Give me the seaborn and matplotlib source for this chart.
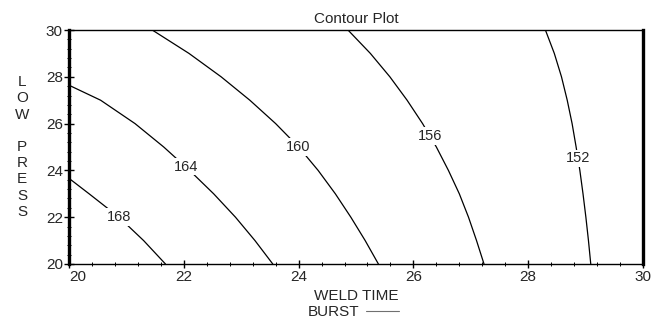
import numpy as np
import pandas as pd
import matplotlib
matplotlib.use("Agg")
import matplotlib.pyplot as plt
from matplotlib.lines import Line2D
from matplotlib.ticker import MultipleLocator
import seaborn as sns

# contour levels of BURST and the curves (WELD TIME, LOW PRESS)
levels = [168, 164, 160, 156, 152]

weld_168 = [20.00, 20.35, 20.87, 21.30, 21.68]
press_168 = [23.66, 23.00, 22.00, 21.00, 20.00]

weld_164 = [20.00, 20.55, 21.15, 21.65, 22.10, 22.52, 22.90, 23.24, 23.55]
press_164 = [27.64, 27.00, 26.00, 25.00, 24.00, 23.00, 22.00, 21.00, 20.00]

weld_160 = [21.45, 22.09, 22.65, 23.15, 23.60, 24.00, 24.34, 24.64, 24.91, 25.16, 25.39]
press_160 = [30.0, 29.0, 28.0, 27.0, 26.0, 25.0, 24.0, 23.0, 22.0, 21.0, 20.0]

weld_156 = [24.86, 25.25, 25.59, 25.89, 26.16, 26.40, 26.61, 26.80, 26.96, 27.10, 27.23]
press_156 = [30.0, 29.0, 28.0, 27.0, 26.0, 25.0, 24.0, 23.0, 22.0, 21.0, 20.0]

weld_152 = [28.30, 28.455, 28.58, 28.68, 28.765, 28.835, 28.90, 28.955, 29.005, 29.05, 29.09]
press_152 = [30.0, 29.0, 28.0, 27.0, 26.0, 25.0, 24.0, 23.0, 22.0, 21.0, 20.0]

curves = {
    168: (weld_168, press_168),
    164: (weld_164, press_164),
    160: (weld_160, press_160),
    156: (weld_156, press_156),
    152: (weld_152, press_152),
}

rows = []
for lev in levels:
    w, p = curves[lev]
    for i in range(len(w)):
        rows.append({"WELD TIME": w[i], "LOW PRESS": p[i], "BURST": lev})
df = pd.DataFrame(rows)

sns.set_style("ticks")
plt.rcParams["font.family"] = ["Liberation Sans", "DejaVu Sans"]

fig = plt.figure(figsize=(6.65, 3.21), dpi=100)
ax = fig.add_axes([0.1038, 0.1776, 0.8631, 0.7289])

sns.lineplot(data=df, x="WELD TIME", y="LOW PRESS", units="BURST",
             estimator=None, sort=False, color="black", linewidth=0.9, ax=ax)

# labels sit on the curves (press values where each label is centred)
label_press = {168: 22.01, 164: 24.15, 160: 25.00, 156: 25.47, 152: 24.51}
for lev in levels:
    w, p = curves[lev]
    yy = label_press[lev]
    xx = np.interp(yy, p[::-1], w[::-1])
    ax.text(xx, yy, str(lev), ha="center", va="center", fontsize=10.5,
            bbox=dict(facecolor="white", edgecolor="none", pad=1.2), zorder=5)

ax.set_xlim(20, 30)
ax.set_ylim(20, 30)
ax.xaxis.set_major_locator(MultipleLocator(2))
ax.yaxis.set_major_locator(MultipleLocator(2))
ax.xaxis.set_minor_locator(MultipleLocator(0.4))
ax.yaxis.set_minor_locator(MultipleLocator(0.4))
ax.tick_params(which="major", direction="inout", length=7, width=1, labelsize=11, pad=1, color="black")
ax.tick_params(which="minor", direction="inout", length=3.5, width=0.7, color="black")
ax.tick_params(axis="x", which="major", length=6)

for side in ["left", "right"]:
    ax.spines[side].set_linewidth(2.4)
for side in ["top", "bottom"]:
    ax.spines[side].set_linewidth(1.0)
for s in ax.spines.values():
    s.set_color("black")

ax.set_title("Contour Plot", fontsize=11, pad=5)
ax.set_xlabel("WELD TIME", fontsize=11, labelpad=4)
ax.set_ylabel("L\nO\nW\n\nP\nR\nE\nS\nS", fontsize=11, rotation=0,
              va="center", ha="center", linespacing=1.2)
ax.yaxis.set_label_coords(-0.082, 0.5)

fig.legend(handles=[Line2D([], [], color="#707070", linewidth=0.8)], labels=["BURST"],
           loc="center", bbox_to_anchor=(0.532, 0.028), frameon=False, markerfirst=False,
           fontsize=11, handlelength=2.2, handletextpad=0.4, borderpad=0)

# the "20" x tick label starts at the axis instead of being centred on it
fig.canvas.draw()
for t in ax.xaxis.get_major_ticks():
    if np.isclose(t.get_loc(), 20):
        t.label1.set_horizontalalignment("left")

fig.savefig("out.png", dpi=100)
